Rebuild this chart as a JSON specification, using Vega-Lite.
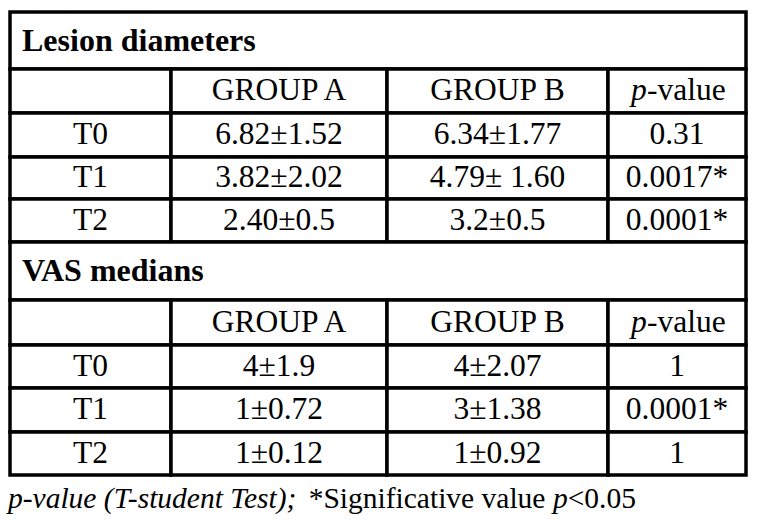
{
  "$schema": "https://vega.github.io/schema/vega-lite/v6.json",
  "width": 759,
  "height": 526,
  "autosize": "none",
  "padding": 0,
  "background": "white",
  "config": {"view": {"stroke": null}, "text": {"font": "'Times New Roman', 'Liberation Serif', Tinos, 'DejaVu Serif', serif", "color": "black"}},
  "datasets": {
    "grid": [
      {"r0": 0, "r1": 1, "c0": 0, "c1": 4},
      {"r0": 1, "r1": 2, "c0": 0, "c1": 1}, {"r0": 1, "r1": 2, "c0": 1, "c1": 2}, {"r0": 1, "r1": 2, "c0": 2, "c1": 3}, {"r0": 1, "r1": 2, "c0": 3, "c1": 4},
      {"r0": 2, "r1": 3, "c0": 0, "c1": 1}, {"r0": 2, "r1": 3, "c0": 1, "c1": 2}, {"r0": 2, "r1": 3, "c0": 2, "c1": 3}, {"r0": 2, "r1": 3, "c0": 3, "c1": 4},
      {"r0": 3, "r1": 4, "c0": 0, "c1": 1}, {"r0": 3, "r1": 4, "c0": 1, "c1": 2}, {"r0": 3, "r1": 4, "c0": 2, "c1": 3}, {"r0": 3, "r1": 4, "c0": 3, "c1": 4},
      {"r0": 4, "r1": 5, "c0": 0, "c1": 1}, {"r0": 4, "r1": 5, "c0": 1, "c1": 2}, {"r0": 4, "r1": 5, "c0": 2, "c1": 3}, {"r0": 4, "r1": 5, "c0": 3, "c1": 4},
      {"r0": 5, "r1": 6, "c0": 0, "c1": 4},
      {"r0": 6, "r1": 7, "c0": 0, "c1": 1}, {"r0": 6, "r1": 7, "c0": 1, "c1": 2}, {"r0": 6, "r1": 7, "c0": 2, "c1": 3}, {"r0": 6, "r1": 7, "c0": 3, "c1": 4},
      {"r0": 7, "r1": 8, "c0": 0, "c1": 1}, {"r0": 7, "r1": 8, "c0": 1, "c1": 2}, {"r0": 7, "r1": 8, "c0": 2, "c1": 3}, {"r0": 7, "r1": 8, "c0": 3, "c1": 4},
      {"r0": 8, "r1": 9, "c0": 0, "c1": 1}, {"r0": 8, "r1": 9, "c0": 1, "c1": 2}, {"r0": 8, "r1": 9, "c0": 2, "c1": 3}, {"r0": 8, "r1": 9, "c0": 3, "c1": 4},
      {"r0": 9, "r1": 10, "c0": 0, "c1": 1}, {"r0": 9, "r1": 10, "c0": 1, "c1": 2}, {"r0": 9, "r1": 10, "c0": 2, "c1": 3}, {"r0": 9, "r1": 10, "c0": 3, "c1": 4}
    ],
    "cells": [
      {"row": 1, "col": 1, "text": "GROUP A"}, {"row": 1, "col": 2, "text": "GROUP B"},
      {"row": 2, "col": 0, "text": "T0"}, {"row": 2, "col": 1, "text": "6.82±1.52"}, {"row": 2, "col": 2, "text": "6.34±1.77"}, {"row": 2, "col": 3, "text": "0.31"},
      {"row": 3, "col": 0, "text": "T1"}, {"row": 3, "col": 1, "text": "3.82±2.02"}, {"row": 3, "col": 2, "text": "4.79± 1.60"}, {"row": 3, "col": 3, "text": "0.0017*"},
      {"row": 4, "col": 0, "text": "T2"}, {"row": 4, "col": 1, "text": "2.40±0.5"}, {"row": 4, "col": 2, "text": "3.2±0.5"}, {"row": 4, "col": 3, "text": "0.0001*"},
      {"row": 6, "col": 1, "text": "GROUP A"}, {"row": 6, "col": 2, "text": "GROUP B"},
      {"row": 7, "col": 0, "text": "T0"}, {"row": 7, "col": 1, "text": "4±1.9"}, {"row": 7, "col": 2, "text": "4±2.07"}, {"row": 7, "col": 3, "text": "1"},
      {"row": 8, "col": 0, "text": "T1"}, {"row": 8, "col": 1, "text": "1±0.72"}, {"row": 8, "col": 2, "text": "3±1.38"}, {"row": 8, "col": 3, "text": "0.0001*"},
      {"row": 9, "col": 0, "text": "T2"}, {"row": 9, "col": 1, "text": "1±0.12"}, {"row": 9, "col": 2, "text": "1±0.92"}, {"row": 9, "col": 3, "text": "1"}
    ],
    "pheader": [
      {"row": 1, "col": 3, "p": "p", "rest": "-value"},
      {"row": 6, "col": 3, "p": "p", "rest": "-value"}
    ],
    "titles": [
      {"row": 0, "col": 0, "text": "Lesion diameters"},
      {"row": 5, "col": 0, "text": "VAS medians"}
    ],
    "note": [
      {"row": 10, "col": 0, "seg1": "p-value (T-student Test);", "seg2": "*Significative value", "seg3": "p", "seg4": "<0.05"}
    ]
  },
  "layer": [
    {
      "data": {"name": "grid"},
      "mark": {"type": "rect", "fill": "white", "stroke": "black", "strokeWidth": 3.5},
      "encoding": {
        "x": {"field": "c0", "type": "quantitative", "axis": null, "scale": {"domain": [0, 1, 2, 3, 4], "range": [10, 171, 387, 608, 746], "nice": false, "zero": false}},
        "x2": {"field": "c1"},
        "y": {"field": "r0", "type": "quantitative", "axis": null, "scale": {"domain": [0, 1, 2, 3, 4, 5, 6, 7, 8, 9, 10], "range": [12, 69, 113, 157, 199, 242, 300, 345, 388, 432, 475], "nice": false, "zero": false}},
        "y2": {"field": "r1"}
      }
    },
    {
      "data": {"name": "cells"},
      "mark": {"type": "text", "fontSize": 31.5, "align": "center", "baseline": "middle"},
      "encoding": {
        "x": {"field": "col", "type": "quantitative", "axis": null, "scale": {"domain": [0, 1, 2, 3], "range": [90.5, 279, 497.5, 677], "nice": false, "zero": false}},
        "y": {"field": "row", "type": "quantitative", "axis": null, "scale": {"domain": [0, 1, 2, 3, 4, 5, 6, 7, 8, 9, 10], "range": [40.5, 91, 135, 178, 220.5, 271, 322.5, 366.5, 410, 453.5, 499], "nice": false, "zero": false}},
        "text": {"field": "text"}
      }
    },
    {
      "data": {"name": "pheader"},
      "mark": {"type": "text", "fontSize": 31.5, "fontStyle": "italic", "align": "left", "baseline": "middle", "dx": -46},
      "encoding": {
        "x": {"field": "col", "type": "quantitative", "axis": null, "scale": {"domain": [0, 1, 2, 3], "range": [90.5, 279, 497.5, 677], "nice": false, "zero": false}},
        "y": {"field": "row", "type": "quantitative", "axis": null, "scale": {"domain": [0, 1, 2, 3, 4, 5, 6, 7, 8, 9, 10], "range": [40.5, 91, 135, 178, 220.5, 271, 322.5, 366.5, 410, 453.5, 499], "nice": false, "zero": false}},
        "text": {"field": "p"}
      }
    },
    {
      "data": {"name": "pheader"},
      "mark": {"type": "text", "fontSize": 31.5, "align": "left", "baseline": "middle", "dx": -30},
      "encoding": {
        "x": {"field": "col", "type": "quantitative", "axis": null, "scale": {"domain": [0, 1, 2, 3], "range": [90.5, 279, 497.5, 677], "nice": false, "zero": false}},
        "y": {"field": "row", "type": "quantitative", "axis": null, "scale": {"domain": [0, 1, 2, 3, 4, 5, 6, 7, 8, 9, 10], "range": [40.5, 91, 135, 178, 220.5, 271, 322.5, 366.5, 410, 453.5, 499], "nice": false, "zero": false}},
        "text": {"field": "rest"}
      }
    },
    {
      "data": {"name": "titles"},
      "mark": {"type": "text", "fontSize": 32, "fontWeight": "bold", "align": "left", "baseline": "middle", "dx": 12},
      "encoding": {
        "x": {"field": "col", "type": "quantitative", "axis": null, "scale": {"domain": [0, 1, 2, 3, 4], "range": [10, 171, 387, 608, 746], "nice": false, "zero": false}},
        "y": {"field": "row", "type": "quantitative", "axis": null, "scale": {"domain": [0, 1, 2, 3, 4, 5, 6, 7, 8, 9, 10], "range": [40.5, 91, 135, 178, 220.5, 271, 322.5, 366.5, 410, 453.5, 499], "nice": false, "zero": false}},
        "text": {"field": "text"}
      }
    },
    {
      "data": {"name": "note"},
      "mark": {"type": "text", "fontSize": 29.5, "fontStyle": "italic", "align": "left", "baseline": "middle", "dx": -2},
      "encoding": {
        "x": {"field": "col", "type": "quantitative", "axis": null, "scale": {"domain": [0, 1, 2, 3, 4], "range": [10, 171, 387, 608, 746], "nice": false, "zero": false}},
        "y": {"field": "row", "type": "quantitative", "axis": null, "scale": {"domain": [0, 1, 2, 3, 4, 5, 6, 7, 8, 9, 10], "range": [40.5, 91, 135, 178, 220.5, 271, 322.5, 366.5, 410, 453.5, 499], "nice": false, "zero": false}},
        "text": {"field": "seg1"}
      }
    },
    {
      "data": {"name": "note"},
      "mark": {"type": "text", "fontSize": 29.5, "align": "left", "baseline": "middle", "dx": 298.7},
      "encoding": {
        "x": {"field": "col", "type": "quantitative", "axis": null, "scale": {"domain": [0, 1, 2, 3, 4], "range": [10, 171, 387, 608, 746], "nice": false, "zero": false}},
        "y": {"field": "row", "type": "quantitative", "axis": null, "scale": {"domain": [0, 1, 2, 3, 4, 5, 6, 7, 8, 9, 10], "range": [40.5, 91, 135, 178, 220.5, 271, 322.5, 366.5, 410, 453.5, 499], "nice": false, "zero": false}},
        "text": {"field": "seg2"}
      }
    },
    {
      "data": {"name": "note"},
      "mark": {"type": "text", "fontSize": 29.5, "fontStyle": "italic", "align": "left", "baseline": "middle", "dx": 542.9},
      "encoding": {
        "x": {"field": "col", "type": "quantitative", "axis": null, "scale": {"domain": [0, 1, 2, 3, 4], "range": [10, 171, 387, 608, 746], "nice": false, "zero": false}},
        "y": {"field": "row", "type": "quantitative", "axis": null, "scale": {"domain": [0, 1, 2, 3, 4, 5, 6, 7, 8, 9, 10], "range": [40.5, 91, 135, 178, 220.5, 271, 322.5, 366.5, 410, 453.5, 499], "nice": false, "zero": false}},
        "text": {"field": "seg3"}
      }
    },
    {
      "data": {"name": "note"},
      "mark": {"type": "text", "fontSize": 29.5, "align": "left", "baseline": "middle", "dx": 557.7},
      "encoding": {
        "x": {"field": "col", "type": "quantitative", "axis": null, "scale": {"domain": [0, 1, 2, 3, 4], "range": [10, 171, 387, 608, 746], "nice": false, "zero": false}},
        "y": {"field": "row", "type": "quantitative", "axis": null, "scale": {"domain": [0, 1, 2, 3, 4, 5, 6, 7, 8, 9, 10], "range": [40.5, 91, 135, 178, 220.5, 271, 322.5, 366.5, 410, 453.5, 499], "nice": false, "zero": false}},
        "text": {"field": "seg4"}
      }
    }
  ],
  "resolve": {"scale": {"x": "independent", "y": "independent"}}
}
